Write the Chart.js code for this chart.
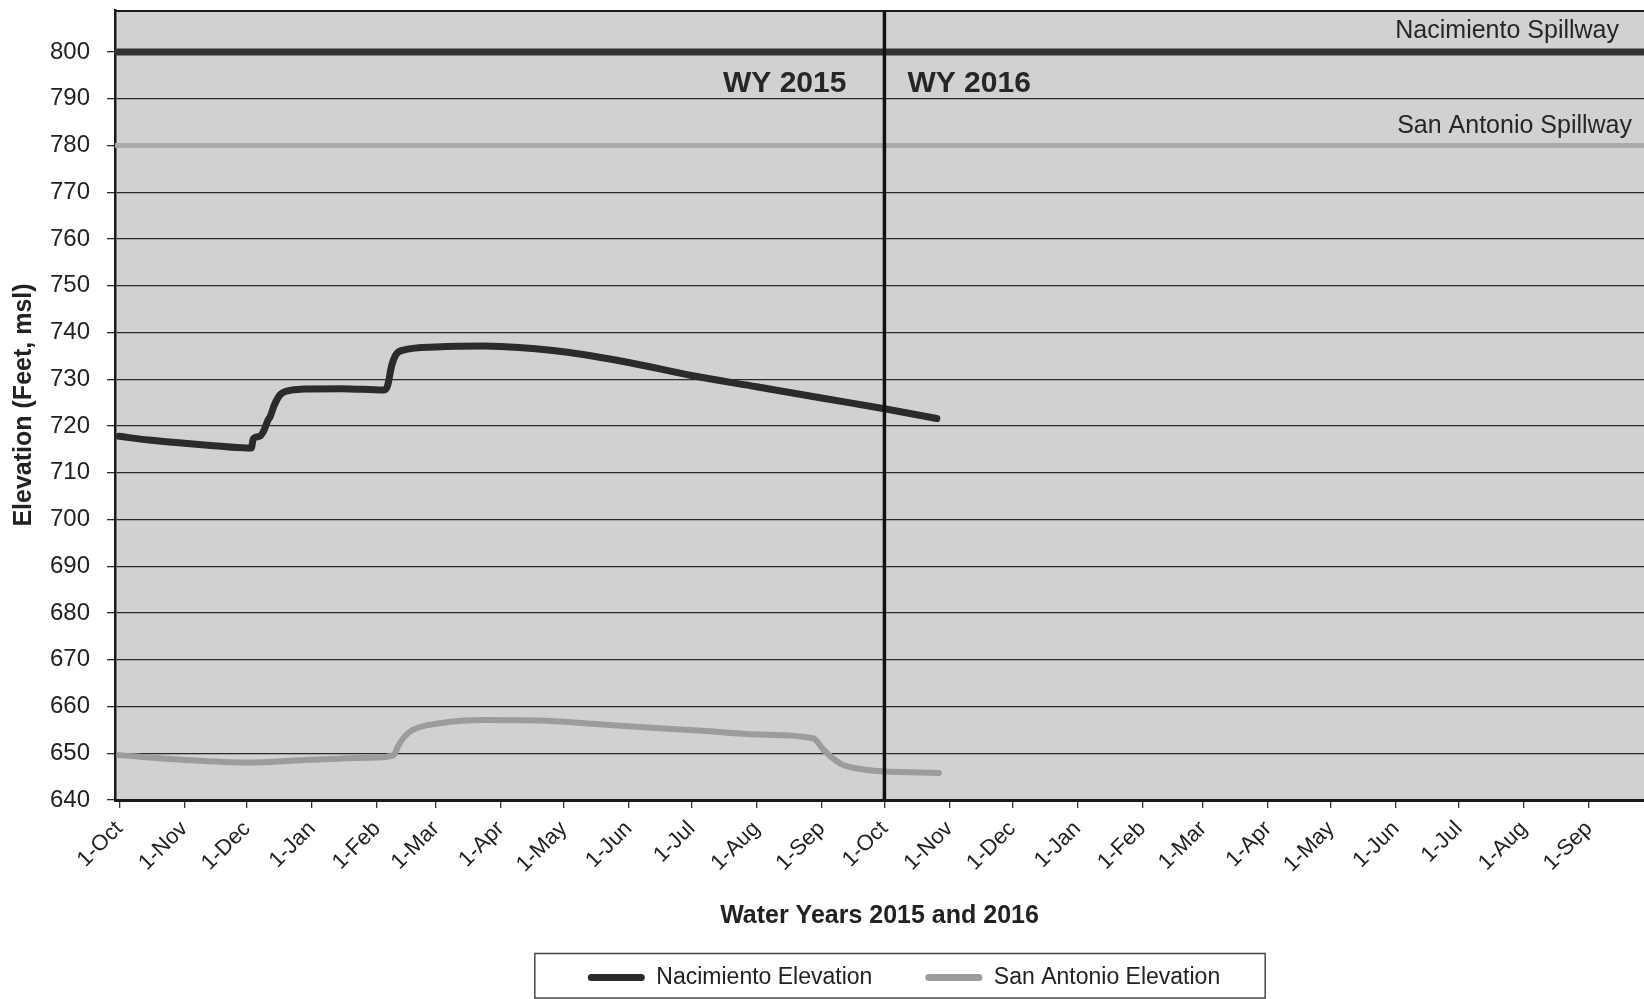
<!DOCTYPE html>
<html><head><meta charset="utf-8">
<script src="https://cdn.jsdelivr.net/npm/chart.js@4.4.1/dist/chart.umd.min.js"></script>
<style>html,body{margin:0;padding:0;background:#fff;}#wrap{width:1644px;height:999px;position:relative;}</style>
</head><body><div id="wrap"><canvas id="c"></canvas></div>
<script>
// ---- data ----
const nacDates = ['2014-10-01','2014-10-15','2014-11-01','2014-11-15','2014-12-01','2014-12-03','2014-12-04','2014-12-07','2014-12-09','2014-12-11','2014-12-12','2014-12-14','2014-12-17','2014-12-21','2014-12-28','2015-01-15','2015-02-04','2015-02-06','2015-02-08','2015-02-10','2015-02-14','2015-03-01','2015-03-24','2015-04-01','2015-05-01','2015-06-01','2015-07-01','2015-08-01','2015-09-01','2015-10-01','2015-10-26'];
const nacValues = [717.8,717.0,716.3,715.8,715.3,715.3,717.3,717.8,719.0,721.3,722.0,724.5,726.8,727.6,727.9,728.0,727.7,728.6,733.0,735.3,736.3,736.9,737.1,737.0,735.9,733.6,730.8,728.4,726.0,723.7,721.6];
const sanDates = ['2014-10-01','2014-10-31','2014-12-01','2014-12-31','2015-01-31','2015-02-09','2015-02-11','2015-02-14','2015-02-18','2015-03-03','2015-03-24','2015-04-19','2015-05-15','2015-06-10','2015-07-06','2015-08-02','2015-08-28','2015-09-02','2015-09-10','2015-09-23','2015-10-01','2015-10-27'];
const sanValues = [649.6,648.6,648.0,648.6,649.1,649.6,651.5,653.5,655.0,656.4,657.1,657.0,656.3,655.5,654.8,654.0,653.2,650.7,647.8,646.4,646.1,645.8];
const tickDates = ['2014-10-01','2014-11-01','2014-12-01','2015-01-01','2015-02-01','2015-03-01','2015-04-01','2015-05-01','2015-06-01','2015-07-01','2015-08-01','2015-09-01','2015-10-01','2015-11-01','2015-12-01','2016-01-01','2016-02-01','2016-03-01','2016-04-01','2016-05-01','2016-06-01','2016-07-01','2016-08-01','2016-09-01'];
const tickLabels = ['1-Oct','1-Nov','1-Dec','1-Jan','1-Feb','1-Mar','1-Apr','1-May','1-Jun','1-Jul','1-Aug','1-Sep','1-Oct','1-Nov','1-Dec','1-Jan','1-Feb','1-Mar','1-Apr','1-May','1-Jun','1-Jul','1-Aug','1-Sep'];
const seriesNames = ['Nacimiento Elevation','San Antonio Elevation'];
const spillwayLevels = [800, 780];
const spillwayNames = ['Nacimiento Spillway','San Antonio Spillway'];
const waterYearSplit = '2015-10-01';
const waterYearLabels = ['WY 2015','WY 2016'];
const yMin = 640, yMax = 809, yStep = 10;
const xStartDate = '2014-09-29', xEndDate = '2016-09-27';

// ---- helpers ----
const DAY0 = Date.UTC(2014, 9, 1);
function toDay(s){ const p = s.split('-').map(Number); return (Date.UTC(p[0], p[1]-1, p[2]) - DAY0) / 86400000; }
const xMin = toDay(xStartDate) + 0.0, xMax = toDay(xEndDate) + 0.3;
const splitDay = toDay(waterYearSplit);
const FONT = "'Liberation Sans', Arial, sans-serif";
Chart.defaults.font.family = FONT;
Chart.defaults.color = '#222';

const decor = {
  id: 'decor',
  beforeDraw(chart){
    const {ctx, chartArea: a} = chart;
    ctx.save();
    ctx.fillStyle = '#fff'; ctx.fillRect(0, 0, chart.width, chart.height);
    ctx.fillStyle = '#d1d1d1'; ctx.fillRect(a.left, a.top, a.right - a.left, a.bottom - a.top);
    ctx.restore();
  },
  afterLayout(chart){
    const lg = chart.legend; lg.left += 82; lg.right += 82;
  },
  afterDatasetsDraw(chart){
    const {ctx, chartArea: a, scales: {x, y}} = chart;
    ctx.save();
    ctx.strokeStyle = '#1a1a1a'; ctx.lineWidth = 2;
    ctx.beginPath(); ctx.moveTo(a.left, a.top + 1); ctx.lineTo(a.right, a.top + 1); ctx.stroke();
    ctx.fillStyle = '#262626';
    ctx.textBaseline = 'middle';
    ctx.font = "25px " + FONT; ctx.textAlign = 'right';
    ctx.fillText(spillwayNames[0], a.right - 25, y.getPixelForValue(spillwayLevels[0]) - 21);
    ctx.fillText(spillwayNames[1], a.right - 12, y.getPixelForValue(spillwayLevels[1]) - 19);
    const sx = x.getPixelForValue(splitDay);
    ctx.font = "bold 30px " + FONT;
    ctx.textAlign = 'right'; ctx.fillText(waterYearLabels[0], sx - 38, y.getPixelForValue(spillwayLevels[0]) + 32);
    ctx.textAlign = 'left'; ctx.fillText(waterYearLabels[1], sx + 23, y.getPixelForValue(spillwayLevels[0]) + 32);
    ctx.restore();
  },
  afterDraw(chart){
    const lg = chart.legend, hb = lg.legendHitBoxes;
    if (!hb || !hb.length) return;
    const ctx = chart.ctx;
    const x0 = hb[0].left - 53, x1 = hb[hb.length-1].left + hb[hb.length-1].width + 45;
    ctx.save(); ctx.strokeStyle = '#444'; ctx.lineWidth = 1.5;
    ctx.strokeRect(x0, lg.top + 40.5, x1 - x0, 998 - (lg.top + 40.5));
    ctx.restore();
  }
};

new Chart(document.getElementById('c'), {
  type: 'line',
  data: { datasets: [
    { label: seriesNames[0], data: nacDates.map((d,i)=>({x: toDay(d), y: nacValues[i]})), borderColor: '#2b2b2b', backgroundColor: '#2b2b2b', borderWidth: 7, pointRadius: 0, cubicInterpolationMode: 'monotone', borderCapStyle: 'round', borderJoinStyle: 'round', order: 1 },
    { label: seriesNames[1], data: sanDates.map((d,i)=>({x: toDay(d), y: sanValues[i]})), borderColor: '#9c9c9c', backgroundColor: '#9c9c9c', borderWidth: 6, pointRadius: 0, cubicInterpolationMode: 'monotone', borderCapStyle: 'round', borderJoinStyle: 'round', order: 2 },
    { label: spillwayNames[0], data: [{x: xMin, y: spillwayLevels[0]}, {x: xMax, y: spillwayLevels[0]}], borderColor: '#333', borderWidth: 7, pointRadius: 0, order: 3 },
    { label: spillwayNames[1], data: [{x: xMin, y: spillwayLevels[1]}, {x: xMax, y: spillwayLevels[1]}], borderColor: '#a9a9a9', borderWidth: 5, pointRadius: 0, order: 4 },
    { label: 'split', data: [{x: splitDay, y: yMin}, {x: splitDay, y: yMax}], borderColor: '#111', borderWidth: 3.5, pointRadius: 0, order: 0 }
  ]},
  options: {
    responsive: true, maintainAspectRatio: false, animation: false, devicePixelRatio: 1,
    layout: { padding: { top: 10, left: 0, right: 0, bottom: 0 } },
    plugins: {
      tooltip: { enabled: false },
      legend: {
        position: 'bottom',
        labels: {
          font: { size: 23 }, color: '#222', padding: 53, boxWidth: 57, boxHeight: 7,
          generateLabels(chart){
            return Chart.defaults.plugins.legend.labels.generateLabels(chart)
              .filter(l => seriesNames.includes(l.text))
              .map(l => Object.assign(l, { lineWidth: 0, fillStyle: l.strokeStyle, borderRadius: 3.5 }));
          }
        }
      }
    },
    scales: {
      x: {
        type: 'linear', min: xMin, max: xMax,
        afterBuildTicks(s){ s.ticks = tickDates.map(d => ({ value: toDay(d) })); },
        afterFit(s){ s.height = 113; s.paddingLeft = 0; s.paddingRight = 0; },
        ticks: { autoSkip: false, maxRotation: 45, minRotation: 45, font: { size: 22 }, color: '#222', padding: 8,
          callback: (v, i) => tickLabels[i] },
        grid: { drawOnChartArea: false, drawTicks: true, tickLength: 8, color: '#333', lineWidth: 1.3 },
        border: { display: true, color: '#1a1a1a', width: 3 },
        title: { display: true, text: 'Water Years 2015 and 2016', font: { size: 25, weight: 'bold' }, color: '#222', padding: { top: 0, bottom: -18 } }
      },
      y: {
        type: 'linear', min: yMin, max: yMax,
        afterBuildTicks(s){ s.ticks = s.ticks.filter(t => t.value % yStep === 0); },
        afterFit(s){ s.width = 115; s.paddingTop = 0; s.paddingBottom = 0; },
        ticks: { stepSize: yStep, font: { size: 24 }, color: '#222', padding: 17 },
        grid: { color: '#2a2a2a', lineWidth: 1.3, tickLength: 8 },
        border: { display: true, color: '#1a1a1a', width: 2.5 },
        title: { display: true, text: 'Elevation (Feet, msl)', font: { size: 25, weight: 'bold' }, color: '#222', padding: { top: 9, bottom: 0 } }
      }
    }
  },
  plugins: [decor]
});
</script></body></html>
